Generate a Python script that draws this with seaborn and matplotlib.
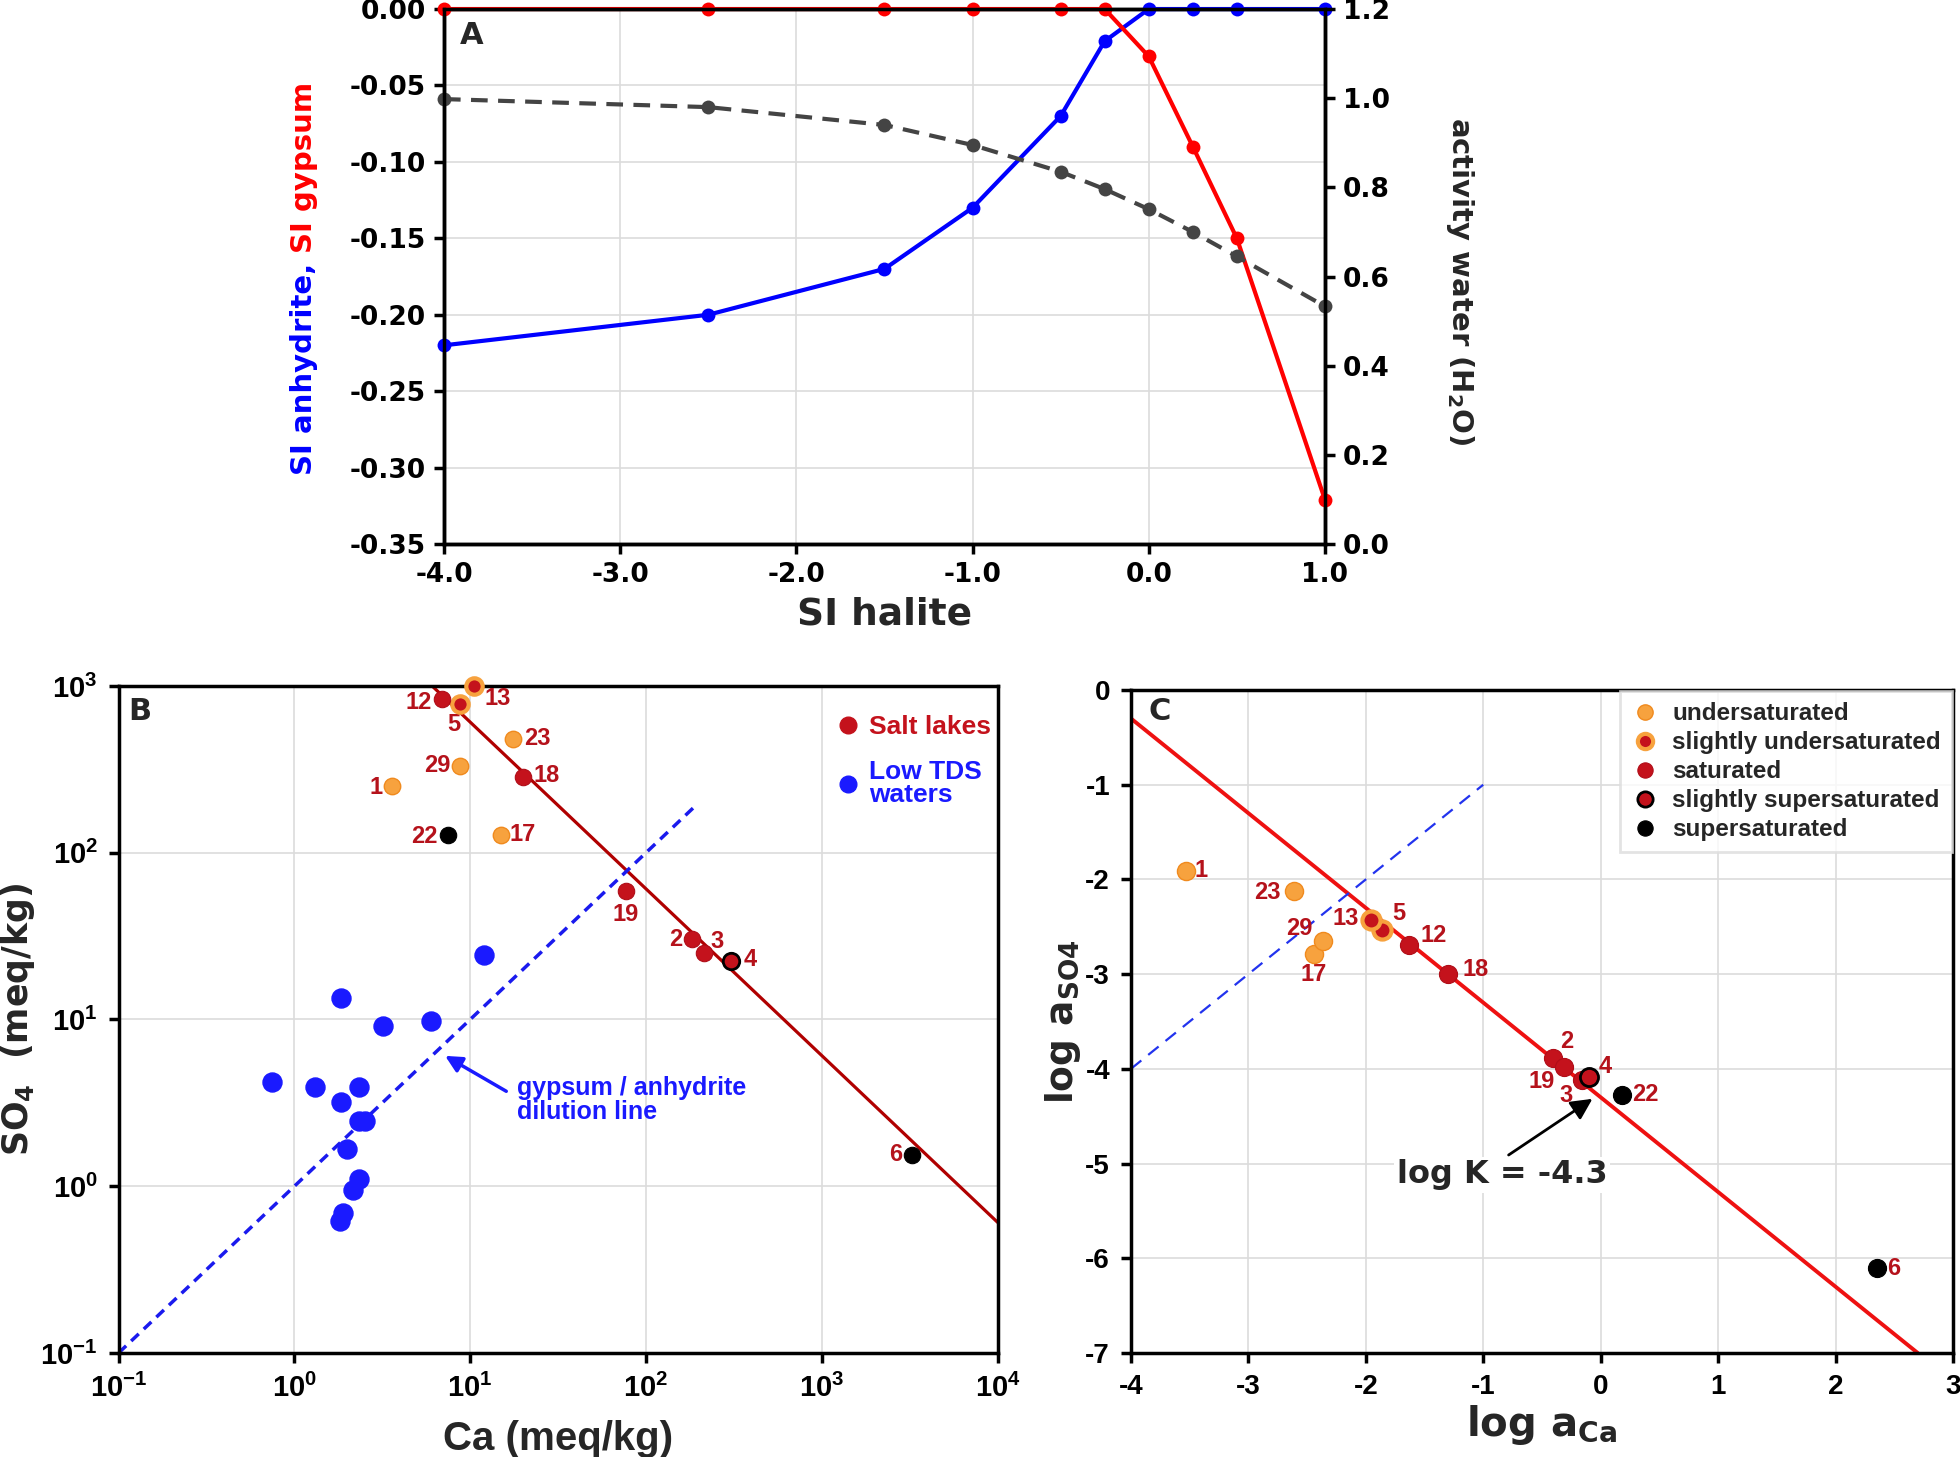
import matplotlib
matplotlib.use('Agg')
import matplotlib.pyplot as plt
from matplotlib import font_manager
from matplotlib.lines import Line2D
from matplotlib.ticker import NullLocator, FuncFormatter
import numpy as np
import pandas as pd
import seaborn as sns

# ---- panel A: saturation indices along the evaporation path ----
si_halite = [-4.0, -2.5, -1.5, -1.0, -0.5, -0.25, 0.0, 0.25, 0.5, 1.0]
si_anhydrite = [-0.22, -0.20, -0.17, -0.13, -0.07, -0.021, 0.0, 0.0, 0.0, 0.0]
si_gypsum = [0.0, 0.0, 0.0, 0.0, 0.0, 0.0, -0.031, -0.09, -0.15, -0.321]
activity_water = [0.998, 0.98, 0.94, 0.895, 0.835, 0.796, 0.751, 0.70, 0.645, 0.533]
a_xticks = [-4.0, -3.0, -2.0, -1.0, 0.0, 1.0]
a_yticks = [-0.35, -0.30, -0.25, -0.20, -0.15, -0.10, -0.05, 0.0]
a_y2ticks = [0.0, 0.2, 0.4, 0.6, 0.8, 1.0, 1.2]

# ---- panels B and C: salt lake samples ----
samples = ['1', '2', '3', '4', '5', '6', '12', '13', '17', '18', '19', '22', '23', '29']
status = ['undersaturated', 'saturated', 'saturated', 'slightly supersaturated',
          'slightly undersaturated', 'supersaturated', 'saturated', 'slightly undersaturated',
          'undersaturated', 'saturated', 'saturated', 'supersaturated', 'undersaturated',
          'undersaturated']
ca_meq = [3.57, 183, 215, 305, 8.7, 3266, 6.9, 10.5, 14.9, 20.0, 76.6, 7.5, 17.6, 8.8]
so4_meq = [250, 30.3, 25.2, 22.3, 783, 1.54, 832, 1000, 128, 285, 58.7, 128, 481, 333]
log_a_ca = [-3.53, -0.405, -0.162, -0.102, -1.86, 2.351, -1.631, -1.954, -2.441, -1.30,
            -0.311, 0.181, -2.61, -2.367]
log_a_so4 = [-1.91, -3.885, -4.116, -4.083, -2.537, -6.106, -2.692, -2.428, -2.786, -2.994,
             -3.984, -4.281, -2.126, -2.654]

# low TDS waters (panel B)
low_tds_ca = [12.0, 1.85, 3.2, 5.97, 0.75, 1.31, 2.33, 1.85, 2.33, 2.53, 2.0, 2.33, 2.16, 1.88, 1.82]
low_tds_so4 = [24.5, 13.5, 9.1, 9.8, 4.19, 3.92, 3.96, 3.2, 2.45, 2.45, 1.67, 1.11, 0.946, 0.69, 0.615]

# reference lines
salt_line_ca = [6.07, 1.0e4]
salt_line_so4 = [1000, 0.607]
dilution_b = [0.1, 190]
logk_line_x = [-4.0, 2.7]
logk_line_y = [-0.3, -7.0]
dilution_c = [-4.0, -1.0]

# label offsets (points) for the sample numbers
offsets_b = {'1': (-11, -1), '2': (-12, 0), '3': (9, 8), '4': (14, 1), '5': (-4, -15),
             '6': (-12, 0), '12': (-17, -2), '13': (17, -9), '17': (16, 0), '18': (17, 1),
             '19': (0, -17), '22': (-17, -1), '23': (17, 0), '29': (-17, 0)}
offsets_c = {'1': (11, 0), '2': (10, 12), '3': (-11, -11), '4': (12, 7), '5': (12, 12),
             '6': (12, 0), '12': (18, 7), '13': (-18, 1), '17': (0, -15), '18': (20, 3),
             '19': (-16, -10), '22': (17, 1), '23': (-19, -1), '29': (-17, 9)}

df = pd.DataFrame({'sample': samples, 'status': status, 'ca': ca_meq, 'so4': so4_meq,
                   'log_ca': log_a_ca, 'log_so4': log_a_so4})

ORANGE = '#f7a23e'
DKRED = '#c4121c'
LABEL_RED = '#b5121b'
BLUE = '#1a1aff'
status_order = ['undersaturated', 'slightly undersaturated', 'saturated',
                'slightly supersaturated', 'supersaturated']
status_style = {
    'undersaturated': dict(color=ORANGE, edgecolor='#f08a1e', linewidth=1.0),
    'slightly undersaturated': dict(color=DKRED, edgecolor=ORANGE, linewidth=3.0),
    'saturated': dict(color=DKRED, edgecolor='#b00d18', linewidth=0.8),
    'slightly supersaturated': dict(color=DKRED, edgecolor='black', linewidth=2.0),
    'supersaturated': dict(color='black', edgecolor='black', linewidth=0.8),
}

sns.set_theme(style='white', rc={
    'axes.edgecolor': 'black', 'axes.linewidth': 2.5,
    'xtick.bottom': True, 'ytick.left': True,
    'xtick.direction': 'out', 'ytick.direction': 'out',
    'xtick.major.size': 7, 'ytick.major.size': 7,
    'xtick.major.width': 2.5, 'ytick.major.width': 2.5,
    'xtick.color': 'black', 'ytick.color': 'black',
    'grid.color': '#dcdcdc', 'grid.linewidth': 1.2,
    'axes.unicode_minus': False})

names = {f.name for f in font_manager.fontManager.ttflist}
NARROW = 'Liberation Sans Narrow' if 'Liberation Sans Narrow' in names else 'Liberation Sans'
plt.rcParams['font.family'] = ['DejaVu Sans']
plt.rcParams['font.weight'] = 'bold'
plt.rcParams['mathtext.fontset'] = 'custom'
plt.rcParams['mathtext.bf'] = NARROW + ':bold'
plt.rcParams['mathtext.rm'] = NARROW + ':bold'

fig = plt.figure(figsize=(19.6, 14.57), dpi=100)
axA = fig.add_axes([0.2265, 0.6266, 0.4495, 0.3672])
axB = fig.add_axes([0.0605, 0.0714, 0.4485, 0.4578])
axC = fig.add_axes([0.577, 0.0714, 0.4194, 0.455])


def fixed(fmt):
    return FuncFormatter(lambda v, p: fmt % (0.0 if abs(v) < 1e-9 else v))


# ---------------- Panel A ----------------
axA.set_axisbelow(True)
axA.grid(True)
sns.lineplot(x=si_halite, y=si_anhydrite, ax=axA, color='#0000ff', lw=3, marker='o',
             markersize=10, markeredgewidth=0, clip_on=False, zorder=4)
sns.lineplot(x=si_halite, y=si_gypsum, ax=axA, color='#ff0000', lw=3, marker='o',
             markersize=10, markeredgewidth=0, clip_on=False, zorder=5)
axA.set_xlim(-4, 1)
axA.set_ylim(-0.35, 0)
axA.set_xticks(a_xticks)
axA.set_yticks(a_yticks)
axA.xaxis.set_major_formatter(fixed('%.1f'))
axA.yaxis.set_major_formatter(fixed('%.2f'))
axA.tick_params(labelsize=19, pad=6)
axA.set_xlabel('SI halite', fontsize=27, fontweight='bold', labelpad=6)

ax2 = axA.twinx()
ax2.grid(False)
sns.lineplot(x=si_halite, y=activity_water, ax=ax2, color='#444444', lw=3,
             linestyle=(0, (4, 2.5)), marker='o', markersize=10, markeredgewidth=0, clip_on=False)
ax2.set_ylim(0, 1.2)
ax2.set_yticks(a_y2ticks)
ax2.yaxis.set_major_formatter(fixed('%.1f'))
ax2.tick_params(axis='y', right=True, labelsize=19, pad=6, length=7, width=2.5)
for sp in ax2.spines.values():
    sp.set_linewidth(2.5)
fig.text(0.745, 0.807, r'activity water (H$_\mathbf{2}$O)', rotation=270, ha='center',
         va='center', fontsize=21, fontweight='bold', math_fontfamily='dejavusans')
t1 = fig.text(0.155, 0.674, 'SI anhydrite, ', rotation=90, ha='center', va='bottom',
              fontsize=21, fontweight='bold', color='#0000ff')
axA.annotate('SI gypsum', xy=(0.5, 1.0), xycoords=t1, ha='center', va='bottom', rotation=90,
             fontsize=21, fontweight='bold', color='#ff0000', annotation_clip=False)
axA.text(0.032, 0.95, 'A', transform=axA.transAxes, ha='center', va='center',
         fontsize=22, fontweight='bold')

# ---------------- Panel B ----------------
axB.set_xscale('log')
axB.set_yscale('log')
axB.set_axisbelow(True)
axB.grid(True, which='major')
sns.lineplot(x=salt_line_ca, y=salt_line_so4, ax=axB, color='#b00000', lw=2.3, zorder=2)
sns.lineplot(x=dilution_b, y=dilution_b, ax=axB, color='#1a1aee', lw=2.5,
             linestyle=(0, (3, 2)), zorder=2)
sns.scatterplot(x=low_tds_ca, y=low_tds_so4, ax=axB, color=BLUE, edgecolor=BLUE,
                s=185, zorder=3)
for st in status_order:
    sub = df[df['status'] == st]
    sns.scatterplot(data=sub, x='ca', y='so4', ax=axB, s=140, zorder=4, clip_on=False,
                    **status_style[st])
for _, r in df.iterrows():
    axB.annotate(r['sample'], (r['ca'], r['so4']), xytext=offsets_b[r['sample']],
                 textcoords='offset points', ha='center', va='center', color=LABEL_RED,
                 fontsize=17, fontweight='bold', family=NARROW)
axB.set_xlim(0.1, 1e4)
axB.set_ylim(0.1, 1e3)
xt = [0.1, 1, 10, 100, 1000, 10000]
axB.set_xticks(xt, labels=[r'$\mathbf{10^{%d}}$' % int(np.log10(v)) for v in xt])
yt = [0.1, 1, 10, 100, 1000]
axB.set_yticks(yt, labels=[r'$\mathbf{10^{%d}}$' % int(np.log10(v)) for v in yt])
axB.xaxis.set_minor_locator(NullLocator())
axB.yaxis.set_minor_locator(NullLocator())
axB.tick_params(labelsize=21, pad=8)
axB.set_xlabel('Ca (meq/kg)', fontsize=29, fontweight='bold', family=NARROW, labelpad=12)
axB.set_ylabel(r'SO$_\mathbf{4}$  (meq/kg)', fontsize=25, fontweight='bold',
               math_fontfamily='dejavusans')
axB.yaxis.set_label_coords(-0.093, 0.5)
axB.annotate('gypsum / anhydrite\ndilution line', xy=(7.2, 6.05), xytext=(18.4, 3.3),
             ha='left', va='center', color=BLUE, fontsize=18, fontweight='bold', family=NARROW,
             linespacing=1.0,
             arrowprops=dict(arrowstyle='-|>', color=BLUE, lw=2.5, mutation_scale=25,
                             relpos=(0, 0.55), shrinkA=6, shrinkB=0))
axB.text(0.024, 0.961, 'B', transform=axB.transAxes, ha='center', va='center',
         fontsize=22, fontweight='bold')
hB = [Line2D([], [], ls='', marker='o', color=DKRED, markersize=12),
      Line2D([], [], ls='', marker='o', color=BLUE, markersize=12)]
legB = axB.legend(hB, ['Salt lakes', 'Low TDS\nwaters'], loc='upper right', frameon=False,
                  labelcolor=[DKRED, BLUE], prop={'family': NARROW, 'weight': 'bold', 'size': 19},
                  handletextpad=0.2, handlelength=1.2, labelspacing=0.8,
                  bbox_to_anchor=(1.012, 0.982), borderaxespad=0.25)
for t in legB.get_texts():
    t.set_linespacing(0.95)

# ---------------- Panel C ----------------
axC.set_axisbelow(True)
axC.grid(True)
sns.lineplot(x=logk_line_x, y=logk_line_y, ax=axC, color='#ee1111', lw=2.8, zorder=2)
sns.lineplot(x=dilution_c, y=dilution_c, ax=axC, color='#2233ee', lw=1.6,
             linestyle=(0, (6, 4)), zorder=2)
for st in status_order:
    sub = df[df['status'] == st]
    sns.scatterplot(data=sub, x='log_ca', y='log_so4', ax=axC, s=170, zorder=4,
                    **status_style[st])
for _, r in df.iterrows():
    axC.annotate(r['sample'], (r['log_ca'], r['log_so4']), xytext=offsets_c[r['sample']],
                 textcoords='offset points', ha='center', va='center', color=LABEL_RED,
                 fontsize=17, fontweight='bold', family=NARROW)
axC.annotate('log K = -4.3', xy=(-0.05, -4.3), xytext=(-0.84, -5.12), ha='center',
             va='center', fontsize=23, fontweight='bold',
             bbox=dict(fc='white', ec='none', pad=2),
             arrowprops=dict(arrowstyle='-|>', color='black', lw=2, mutation_scale=32,
                             relpos=(0.5, 1.0), shrinkA=2, shrinkB=2))
axC.set_xlim(-4, 3)
axC.set_ylim(-7, 0)
axC.set_xticks(range(-4, 4))
axC.set_yticks(range(-7, 1))
axC.tick_params(labelsize=20, pad=8)
for lab in axC.get_xticklabels() + axC.get_yticklabels():
    lab.set_family(NARROW)
axC.set_xlabel(r'log a$_\mathbf{Ca}$', fontsize=29, fontweight='bold',
               math_fontfamily='dejavusans', labelpad=2)
axC.set_ylabel(r'log a$_\mathbf{SO4}$', fontsize=27, fontweight='bold',
               math_fontfamily='dejavusans')
axC.yaxis.set_label_coords(-0.058, 0.5)
axC.text(0.035, 0.968, 'C', transform=axC.transAxes, ha='center', va='center',
         fontsize=22, fontweight='bold')
hC = []
for st in status_order:
    s = status_style[st]
    hC.append(Line2D([], [], ls='', marker='o', markerfacecolor=s['color'],
                     markeredgecolor=s['edgecolor'], markeredgewidth=s['linewidth'],
                     markersize=11))
legC = axC.legend(hC, status_order, loc='upper right', frameon=True, fancybox=False,
                  prop={'family': 'Liberation Sans', 'weight': 'bold', 'size': 17.5},
                  handletextpad=0.5, handlelength=1.2, borderaxespad=0.05, labelspacing=0.25,
                  borderpad=0.45)
legC.get_frame().set_edgecolor('#dddddd')
legC.get_frame().set_linewidth(2)

fig.savefig('out.png', dpi=100)
